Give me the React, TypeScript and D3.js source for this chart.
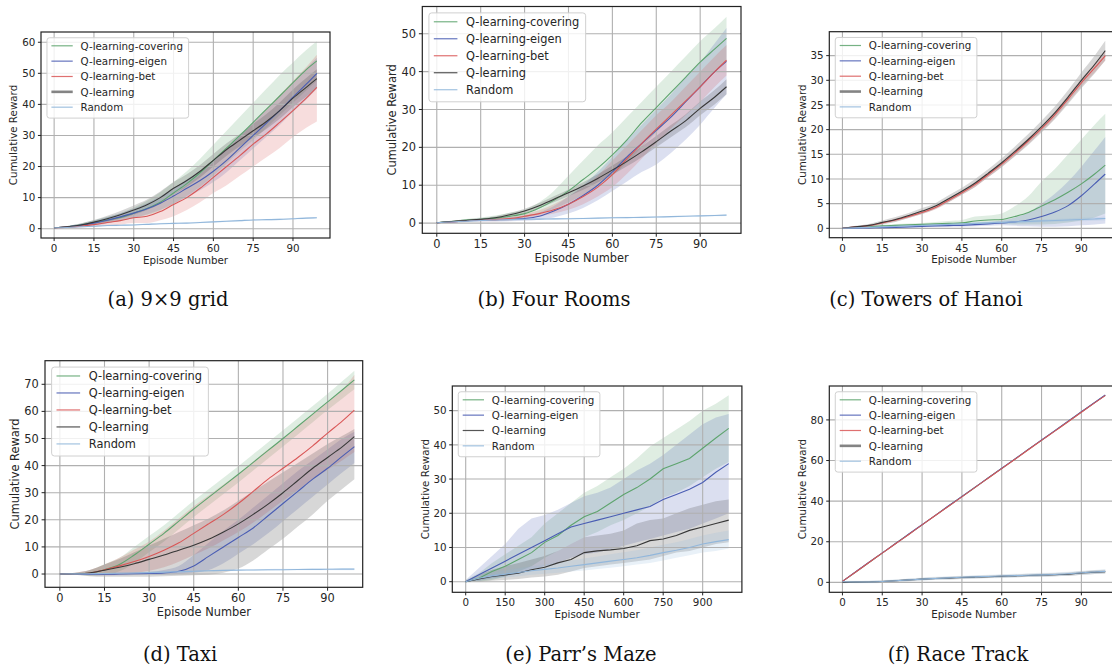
import React from 'react';
import * as d3 from 'd3';

// ---------- x samples ----------
const xEp = [0, 5, 10, 15, 20, 25, 30, 35, 40, 45, 50, 55, 60, 65, 70, 75, 80, 85, 90, 95, 99];
const xParr = [0, 50, 100, 150, 200, 250, 300, 350, 400, 450, 500, 550, 600, 650, 700, 750, 800, 850, 900, 950, 999];

// ---------- (a) 9x9 grid ----------
const aCovMean = [0.3, 0.6, 1.2, 2.0, 2.8, 3.6, 5.0, 6.5, 8.5, 11.5, 14.5, 18, 22, 26, 30, 34.2, 38.5, 42.7, 47, 51.2, 54];
const aCovHi = [0.4, 0.9, 1.7, 2.7, 3.8, 5.0, 6.8, 9.0, 11.7, 15.0, 18.5, 22.5, 27, 31.5, 36, 40.5, 45, 49.5, 53.5, 57.5, 60.3];
const aCovLo = [0.2, 0.4, 0.8, 1.3, 1.9, 2.5, 3.4, 4.4, 5.8, 8.0, 10.5, 13.5, 17, 21, 25, 28.5, 32.5, 36.5, 40.5, 44.5, 47.5];
const aEigMean = [0.3, 0.6, 1.1, 1.8, 2.7, 3.8, 5.0, 6.4, 8.2, 10.5, 13.0, 15.5, 18.5, 22, 26, 30, 34, 38, 42.3, 46.5, 50];
const aEigHi = [0.4, 0.9, 1.6, 2.6, 3.7, 5.0, 6.5, 8.2, 10.4, 13, 15.8, 18.6, 22, 25.8, 30, 34.2, 38.4, 42.6, 47, 51.5, 55];
const aEigLo = [0.2, 0.3, 0.6, 1.0, 1.7, 2.6, 3.5, 4.6, 6.0, 8, 10.2, 12.4, 15, 18.2, 22, 25.8, 29.6, 33.4, 37.6, 41.5, 45];
const aBetMean = [0.3, 0.5, 0.8, 1.3, 2.0, 2.6, 3.5, 4.0, 5.5, 7.8, 10.0, 13.0, 16.5, 20, 23.5, 27.2, 30.5, 34.2, 38, 42, 45.5];
const aBetHi = [0.4, 0.8, 1.3, 2.0, 3.0, 4.0, 5.2, 6.3, 8.5, 11.0, 14.0, 17.5, 21.5, 25.5, 29.5, 34, 38.5, 43, 47.5, 52, 56];
const aBetLo = [0.2, 0.3, 0.4, 0.6, 1.0, 1.3, 1.8, 1.8, 2.7, 4.0, 6.0, 8.5, 11.5, 14, 17, 20, 23, 26, 29.5, 32.5, 34.5];
const aQMean = [0.3, 0.6, 1.2, 2.1, 3.2, 4.5, 6.0, 7.7, 10.0, 13.0, 15.5, 18.5, 22, 25.5, 28.5, 31.5, 34.5, 38, 42, 45.5, 48.3];
const aQHi = [0.4, 0.9, 1.7, 2.8, 4.2, 5.7, 7.5, 9.4, 12, 15, 17.5, 20.5, 24, 27.5, 30.5, 33.7, 36.9, 40.6, 44.8, 48.5, 51.3];
const aQLo = [0.2, 0.3, 0.7, 1.4, 2.2, 3.3, 4.5, 6.0, 8, 11, 13.5, 16.5, 20, 23.5, 26.5, 29.3, 32.1, 35.4, 39.2, 42.5, 45.3];
const aRndMean = [0.3, 0.4, 0.6, 0.8, 1.0, 1.1, 1.2, 1.4, 1.6, 1.7, 1.8, 2.0, 2.2, 2.4, 2.6, 2.8, 2.9, 3.0, 3.2, 3.4, 3.5];
const aRndHi = [0.5, 0.65, 0.85, 1.05, 1.25, 1.35, 1.45, 1.65, 1.85, 1.95, 2.05, 2.25, 2.45, 2.65, 2.85, 3.05, 3.15, 3.25, 3.45, 3.65, 3.75];
const aRndLo = [0.1, 0.15, 0.35, 0.55, 0.75, 0.85, 0.95, 1.15, 1.35, 1.45, 1.55, 1.75, 1.95, 2.15, 2.35, 2.55, 2.65, 2.75, 2.95, 3.15, 3.25];

// ---------- (b) Four Rooms ----------
const bCovMean = [0.1, 0.4, 0.8, 1.0, 1.3, 1.8, 2.5, 4.0, 6.0, 8.5, 11.5, 14.5, 18.0, 22, 26.5, 30.5, 34.5, 38.5, 42.5, 46, 48.8];
const bCovHi = [0.2, 0.6, 1.1, 1.5, 2.0, 2.7, 3.5, 5.5, 8.5, 12.5, 16.5, 20.5, 24, 28, 32, 36, 40, 44, 48, 51.5, 54.5];
const bCovLo = [0.0, 0.2, 0.5, 0.6, 0.7, 1.0, 1.5, 2.5, 3.8, 5.5, 7.5, 10, 12.5, 16, 20, 24, 28, 32, 36, 40, 43];
const bEigMean = [0.1, 0.3, 0.6, 0.8, 0.9, 1.0, 1.2, 1.8, 3.2, 5.0, 7.3, 10.0, 13.5, 17.5, 21, 24.5, 28, 32, 36, 40, 42.7];
const bEigHi = [0.2, 0.5, 0.9, 1.2, 1.4, 1.6, 2.0, 2.8, 4.5, 7, 10, 13.5, 17.5, 22, 26, 30, 34, 38.5, 42.5, 47.5, 51.5];
const bEigLo = [0.0, 0.1, 0.3, 0.4, 0.4, 0.5, 0.6, 0.9, 1.5, 2.5, 4.0, 6, 8.5, 11.0, 13.5, 15.5, 18.5, 22, 26, 30.5, 34];
const bBetMean = [0.1, 0.3, 0.6, 0.8, 0.9, 1.2, 1.8, 2.5, 3.5, 5.0, 7.0, 9.5, 12.8, 17, 21, 24.8, 28.5, 32.2, 36, 40, 43];
const bBetHi = [0.2, 0.5, 0.8, 1.1, 1.3, 1.7, 2.4, 3.4, 5.0, 7.0, 9.5, 12.5, 16.5, 20.5, 24.5, 28.5, 32, 36, 40, 44, 47];
const bBetLo = [0.0, 0.1, 0.4, 0.5, 0.5, 0.7, 1.2, 1.8, 2.5, 3.5, 5.0, 7.0, 9.5, 13, 17, 21, 25, 28.5, 32, 36, 39];
const bQMean = [0.1, 0.4, 0.7, 1.0, 1.4, 2.2, 3.2, 4.6, 6.3, 8.0, 9.8, 11.8, 14.0, 16.3, 18.8, 21.5, 24.3, 27, 30.3, 33.3, 36];
const bQHi = [0.2, 0.6, 1.0, 1.3, 1.8, 2.7, 3.8, 5.3, 7.1, 8.9, 10.8, 12.9, 15.2, 17.6, 20.2, 23, 25.9, 28.7, 32.1, 35.2, 38];
const bQLo = [0, 0.2, 0.4, 0.7, 1.0, 1.7, 2.6, 3.9, 5.5, 7.1, 8.8, 10.7, 12.8, 15, 17.4, 20, 22.7, 25.3, 28.5, 31.4, 34];
const bRndMean = [0.1, 0.3, 0.5, 0.7, 0.8, 0.9, 1.0, 1.05, 1.1, 1.15, 1.2, 1.3, 1.4, 1.45, 1.5, 1.6, 1.7, 1.8, 1.9, 2.0, 2.1];
const bRndHi = [0.3, 0.5, 0.7, 0.9, 1.0, 1.1, 1.2, 1.25, 1.3, 1.35, 1.4, 1.5, 1.6, 1.65, 1.7, 1.8, 1.9, 2.0, 2.1, 2.2, 2.3];
const bRndLo = [-0.1, 0.1, 0.3, 0.5, 0.6, 0.7, 0.8, 0.85, 0.9, 0.95, 1.0, 1.1, 1.2, 1.25, 1.3, 1.4, 1.5, 1.6, 1.7, 1.8, 1.9];

// ---------- (c) Towers of Hanoi ----------
const cCovMean = [0, 0.2, 0.3, 0.5, 0.6, 0.7, 0.8, 0.9, 1.0, 1.1, 1.5, 1.7, 1.8, 2.4, 3.2, 4.5, 5.8, 7.3, 9.0, 11.0, 12.8];
const cCovHi = [0.05, 0.3, 0.5, 0.7, 0.9, 1.0, 1.1, 1.3, 1.5, 1.7, 2.4, 2.6, 3.0, 4.5, 6.5, 9.5, 12.0, 15.0, 18.0, 21.0, 23.2];
const cCovLo = [0, 0.1, 0.2, 0.3, 0.4, 0.4, 0.5, 0.6, 0.6, 0.7, 0.8, 0.9, 0.9, 0.8, 0.8, 0.8, 0.9, 1.2, 1.6, 2.2, 3.0];
const cEigMean = [0, 0.05, 0.1, 0.15, 0.2, 0.3, 0.4, 0.5, 0.55, 0.6, 0.75, 0.9, 1.1, 1.3, 1.7, 2.4, 3.3, 4.6, 6.6, 9.0, 11.0];
const cEigHi = [0.05, 0.1, 0.2, 0.3, 0.35, 0.45, 0.6, 0.75, 0.8, 0.9, 1.1, 1.3, 1.6, 2.2, 3.2, 5.0, 7.0, 9.5, 12.5, 15.8, 18.5];
const cEigLo = [0, 0, 0, 0, 0.05, 0.15, 0.2, 0.25, 0.3, 0.3, 0.4, 0.5, 0.6, 0.5, 0.4, 0.3, 0.3, 0.4, 0.6, 0.8, 1.0];
const cBetMean = [0, 0.3, 0.55, 1.1, 1.7, 2.4, 3.2, 4.2, 5.7, 7.2, 8.9, 10.9, 13.0, 15.3, 17.7, 20.2, 23.0, 26.2, 29.5, 32.5, 35];
const cBetHi = [0.05, 0.4, 0.75, 1.3, 2.0, 2.7, 3.5, 4.6, 6.1, 7.6, 9.4, 11.4, 13.5, 15.9, 18.3, 20.8, 23.7, 26.9, 30.3, 33.4, 36];
const cBetLo = [-0.05, 0.2, 0.35, 0.9, 1.4, 2.1, 2.9, 3.8, 5.3, 6.8, 8.4, 10.4, 12.5, 14.7, 17.1, 19.6, 22.3, 25.5, 28.7, 31.6, 34];
const cQMean = [0, 0.3, 0.6, 1.2, 1.8, 2.6, 3.5, 4.5, 6.0, 7.5, 9.2, 11.2, 13.3, 15.6, 18.0, 20.6, 23.4, 26.6, 30, 33.2, 36];
const cQHi = [0.05, 0.5, 0.9, 1.6, 2.3, 3.1, 4.1, 5.1, 6.7, 8.2, 10, 12, 14.2, 16.6, 19.1, 21.8, 24.7, 28, 31.6, 35, 38];
const cQLo = [-0.05, 0.1, 0.3, 0.8, 1.3, 2.1, 2.9, 3.9, 5.3, 6.8, 8.4, 10.4, 12.4, 14.6, 16.9, 19.4, 22.1, 25.2, 28.4, 31.4, 34];
const cRndMean = [0, 0.1, 0.2, 0.3, 0.4, 0.5, 0.6, 0.7, 0.8, 0.9, 1.0, 1.1, 1.2, 1.3, 1.4, 1.5, 1.6, 1.7, 1.8, 1.9, 2.0];
const cRndHi = [0.2, 0.35, 0.45, 0.55, 0.65, 0.75, 0.85, 0.95, 1.05, 1.15, 1.25, 1.4, 1.5, 1.6, 1.7, 1.8, 1.9, 2.0, 2.15, 2.25, 2.4];
const cRndLo = [-0.2, -0.1, 0, 0.05, 0.15, 0.25, 0.35, 0.45, 0.55, 0.65, 0.75, 0.8, 0.9, 1.0, 1.1, 1.2, 1.3, 1.4, 1.45, 1.55, 1.6];

// ---------- (d) Taxi ----------
const dCovMean = [0, 0.1, 0.4, 1.6, 3.5, 7, 11, 15, 19.5, 24, 28.3, 32.5, 36.8, 41.2, 45.6, 50, 54.5, 59, 63.5, 68, 71.6];
const dCovHi = [0, 0.4, 1.4, 3.6, 6, 10, 14, 18, 22.5, 27, 31.3, 35.5, 39.8, 44.2, 48.6, 53, 57.5, 62, 66.5, 71.2, 75];
const dCovLo = [0, -0.2, -0.6, -0.4, 1, 4, 8, 12, 16.5, 21, 25.3, 29.5, 33.8, 38.2, 42.6, 47, 51.5, 56, 60.5, 64.8, 68.2];
const dEigMean = [0, 0, -0.1, -0.1, 0, 0.1, 0.2, 0.4, 1.0, 3.0, 6.5, 10, 13.5, 17, 21.5, 26, 30.5, 35, 39, 43.5, 47];
const dEigHi = [0, 0.2, 0.3, 0.4, 0.5, 0.6, 0.8, 1.5, 3, 7, 11.5, 16, 20, 24.5, 29, 33.5, 38, 42, 46, 50, 52.5];
const dEigLo = [0, -0.2, -0.4, -0.5, -0.5, -0.4, -0.3, -0.2, 0, 0.5, 1.5, 4, 7.5, 11, 15, 19.5, 24, 28.5, 33, 37.5, 41];
const dBetMean = [0, 0.1, 0.4, 1.6, 3.0, 4.6, 6.5, 8.8, 11.5, 15, 18.5, 22, 26, 30.5, 35, 39, 43, 47.3, 52, 56.5, 60.5];
const dBetHi = [0, 0.5, 1.5, 3.5, 6, 9, 12, 16, 20.5, 25, 29, 33, 37, 41.5, 46, 50, 54.5, 59, 63.5, 68, 73.5];
const dBetLo = [0, -0.2, -0.5, -0.5, -0.3, 0.3, 1.2, 2.5, 4.5, 7, 9.5, 12.5, 15.5, 19, 23, 27, 31, 35, 38.5, 42, 45];
const dQMean = [0, 0.1, 0.4, 1.4, 2.5, 3.8, 5.4, 7.0, 8.8, 10.6, 12.8, 15.5, 18.5, 22, 25.8, 30, 34.5, 39, 43, 47, 50.7];
const dQHi = [0, 0.5, 1.5, 3.5, 5.5, 8, 10.5, 13, 15.5, 18, 20.5, 23.5, 27, 30.5, 34, 37.5, 41, 44.5, 48, 51, 53.5];
const dQLo = [0, -0.3, -0.8, -1.0, -1.0, -1.0, -1.0, -0.8, -0.6, -0.5, -0.3, 0.5, 2, 5, 9, 13, 17.5, 22, 27, 31.5, 35];
const dRndMean = [0, 0.05, 0.1, 0.2, 0.3, 0.4, 0.5, 0.7, 0.85, 1.0, 1.2, 1.35, 1.45, 1.5, 1.55, 1.6, 1.65, 1.7, 1.75, 1.8, 1.8];
const dRndHi = [0.2, 0.3, 0.35, 0.45, 0.55, 0.65, 0.75, 0.95, 1.1, 1.25, 1.45, 1.6, 1.7, 1.8, 1.85, 1.9, 1.95, 2.0, 2.1, 2.2, 2.2];
const dRndLo = [-0.2, -0.2, -0.15, -0.05, 0.05, 0.15, 0.25, 0.45, 0.6, 0.75, 0.95, 1.1, 1.2, 1.2, 1.25, 1.3, 1.35, 1.4, 1.4, 1.4, 1.4];

// ---------- (e) Parr's Maze ----------
const eCovMean = [0, 1.0, 3, 4.5, 6.5, 8.5, 11.5, 13.5, 16.5, 19, 20.5, 23, 25.5, 27.5, 30, 33, 34.5, 36, 39, 42, 44.8];
const eCovHi = [0.5, 2.5, 5.5, 8, 10.5, 13, 17, 20, 23, 26, 28, 30.5, 33, 36, 39.5, 42, 44.5, 47, 50, 52, 54.5];
const eCovLo = [0, 0, 0.5, 1.5, 3, 4.5, 7, 9, 11, 13, 14.5, 16.5, 18, 20, 22, 24.5, 26, 28, 30.5, 33, 35];
const eEigMean = [0, 2, 4, 6, 8, 10, 12, 14, 16, 17, 18, 19, 20, 21, 22, 24, 25.5, 27, 29, 32, 34.5];
const eEigHi = [0.5, 4, 7.5, 11, 15.5, 18.5, 19.5, 21, 23, 25, 26, 27.5, 30, 32.5, 34.5, 37, 40, 43, 46, 48, 49];
const eEigLo = [0, 0.3, 1, 1.5, 2.5, 3.5, 4.5, 5.5, 7, 8, 8.5, 9.5, 10.5, 11.5, 12.5, 13.5, 14.5, 15.5, 17, 18.5, 20];
const eQMean = [0, 0.8, 1.5, 2, 2.5, 3.5, 4.2, 5.5, 6.5, 8.5, 9, 9.3, 9.7, 10.5, 12, 12.5, 13.5, 15, 16, 17, 18];
const eQHi = [0.3, 2, 3.5, 4.5, 5.5, 6.5, 7.5, 9, 11, 13, 13.5, 14, 15, 17, 18, 18.5, 20, 21.5, 22.5, 23.5, 24];
const eQLo = [0, 0, 0.3, 0.5, 0.8, 1.2, 1.5, 2, 3, 4, 4.5, 5, 5.5, 6, 6.5, 7.5, 8.5, 9, 10, 11, 11.5];
const eRndMean = [0, 1.0, 1.7, 2.2, 2.7, 3.2, 3.6, 4.0, 4.5, 5.0, 5.5, 6.0, 6.5, 7.0, 7.7, 8.5, 9.2, 10, 11, 11.7, 12.3];
const eRndHi = [0.5, 1.8, 2.7, 3.3, 3.9, 4.5, 5.0, 5.6, 6.2, 6.8, 7.4, 8.0, 8.6, 9.2, 10, 10.8, 11.5, 12.5, 13.5, 14.3, 15];
const eRndLo = [0, 0.3, 0.8, 1.2, 1.6, 2.0, 2.3, 2.6, 3.0, 3.3, 3.7, 4.1, 4.5, 5.0, 5.5, 6.2, 7, 7.7, 8.5, 9.0, 9.7];

// ---------- (f) Race Track ----------
const fCovMean = [0.5, 5.1, 9.8, 14.4, 19.1, 23.7, 28.3, 33.0, 37.6, 42.2, 46.8, 51.5, 56.1, 60.7, 65.4, 70.0, 74.6, 79.2, 83.9, 88.5, 92.1];
const fEigMean = [0.5, 5.2, 9.9, 14.5, 19.1, 23.8, 28.4, 33.0, 37.7, 42.3, 46.9, 51.6, 56.2, 60.8, 65.5, 70.1, 74.7, 79.4, 84.0, 88.6, 92.3];
const fBetMean = [0.5, 5.1, 9.8, 14.4, 19.0, 23.6, 28.3, 32.9, 37.5, 42.1, 46.8, 51.4, 56.0, 60.6, 65.3, 69.9, 74.5, 79.1, 83.8, 88.4, 92.0];
const fQMean = [0, 0.1, 0.2, 0.4, 0.8, 1.2, 1.6, 1.9, 2.1, 2.4, 2.6, 2.8, 3.0, 3.2, 3.4, 3.6, 3.8, 4.0, 4.6, 5.0, 5.3];
const fQHi = [0.4, 0.5, 0.7, 0.9, 1.3, 1.8, 2.2, 2.5, 2.8, 3.1, 3.3, 3.5, 3.7, 3.9, 4.2, 4.4, 4.6, 4.9, 5.5, 5.9, 6.2];
const fQLo = [-0.4, -0.3, -0.3, -0.1, 0.3, 0.6, 1.0, 1.3, 1.4, 1.7, 1.9, 2.1, 2.3, 2.5, 2.6, 2.8, 3.0, 3.1, 3.7, 4.1, 4.4];
const fRndMean = [0.3, 0.2, 0.2, 0.4, 0.8, 1.2, 1.6, 1.9, 2.2, 2.5, 2.7, 2.9, 3.1, 3.3, 3.5, 3.7, 3.9, 4.2, 4.7, 5.1, 5.4];
const fRndHi = [0.8, 0.8, 0.9, 1.1, 1.5, 1.9, 2.4, 2.7, 3.0, 3.3, 3.5, 3.8, 4.0, 4.2, 4.4, 4.7, 4.9, 5.2, 5.7, 6.1, 6.4];
const fRndLo = [-0.2, -0.4, -0.5, -0.3, 0.1, 0.5, 0.8, 1.1, 1.4, 1.7, 1.9, 2.0, 2.2, 2.4, 2.6, 2.7, 2.9, 3.2, 3.7, 4.1, 4.4];

// ---------- labels / ticks ----------
const NAME_COV = 'Q-learning-covering';
const NAME_EIG = 'Q-learning-eigen';
const NAME_BET = 'Q-learning-bet';
const NAME_Q = 'Q-learning';
const NAME_RND = 'Random';
const xTicksEp = [0, 15, 30, 45, 60, 75, 90];
const xTicksParr = [0, 150, 300, 450, 600, 750, 900];
const yTicksA = [0, 10, 20, 30, 40, 50, 60];
const yTicksB = [0, 10, 20, 30, 40, 50];
const yTicksC = [0, 5, 10, 15, 20, 25, 30, 35];
const yTicksD = [0, 10, 20, 30, 40, 50, 60, 70];
const yTicksE = [0, 10, 20, 30, 40, 50];
const yTicksF = [0, 20, 40, 60, 80];
const captions = ['(a) 9×9 grid', '(b) Four Rooms', '(c) Towers of Hanoi', '(d) Taxi', '(e) Parr’s Maze', '(f) Race Track'];

const C_COV = '#5ea46e';
const C_EIG = '#4a5db3';
const C_BET = '#d95757';
const C_Q = '#383838';
const C_RND = '#92b7db';

type Series = { name: string; color: string; mean: number[]; lo?: number[]; hi?: number[] };
type PanelCfg = {
  caption: string; capX: number; capY: number;
  box: { l: number; t: number; r: number; b: number };
  xDomain: [number, number]; yDomain: [number, number];
  xs: number[]; xTicks: number[]; yTicks: number[];
  s: number; jag?: boolean; series: Series[]; thickQLegend?: boolean;
};

const panels: PanelCfg[] = [
  {
    caption: captions[0], capX: 168, capY: 306,
    box: { l: 41, t: 32, r: 330, b: 238 }, xDomain: [-4.95, 103.95], yDomain: [-3.0, 63.3],
    xs: xEp, xTicks: xTicksEp, yTicks: yTicksA, s: 1.03, thickQLegend: true,
    series: [
      { name: NAME_COV, color: C_COV, mean: aCovMean, lo: aCovLo, hi: aCovHi },
      { name: NAME_EIG, color: C_EIG, mean: aEigMean, lo: aEigLo, hi: aEigHi },
      { name: NAME_BET, color: C_BET, mean: aBetMean, lo: aBetLo, hi: aBetHi },
      { name: NAME_Q, color: C_Q, mean: aQMean, lo: aQLo, hi: aQHi },
      { name: NAME_RND, color: C_RND, mean: aRndMean, lo: aRndLo, hi: aRndHi },
    ],
  },
  {
    caption: captions[1], capX: 554, capY: 306,
    box: { l: 422.3, t: 6.5, r: 741, b: 233.3 }, xDomain: [-4.95, 103.95], yDomain: [-2.7, 57.2],
    xs: xEp, xTicks: xTicksEp, yTicks: yTicksB, s: 1.14,
    series: [
      { name: NAME_COV, color: C_COV, mean: bCovMean, lo: bCovLo, hi: bCovHi },
      { name: NAME_EIG, color: C_EIG, mean: bEigMean, lo: bEigLo, hi: bEigHi },
      { name: NAME_BET, color: C_BET, mean: bBetMean, lo: bBetLo, hi: bBetHi },
      { name: NAME_Q, color: C_Q, mean: bQMean, lo: bQLo, hi: bQHi },
      { name: NAME_RND, color: C_RND, mean: bRndMean, lo: bRndLo, hi: bRndHi },
    ],
  },
  {
    caption: captions[2], capX: 926, capY: 306,
    box: { l: 829.3, t: 31.7, r: 1118.4, b: 237.7 }, xDomain: [-4.95, 103.95], yDomain: [-1.9, 39.85],
    xs: xEp, xTicks: xTicksEp, yTicks: yTicksC, s: 1.03, thickQLegend: true,
    series: [
      { name: NAME_COV, color: C_COV, mean: cCovMean, lo: cCovLo, hi: cCovHi },
      { name: NAME_EIG, color: C_EIG, mean: cEigMean, lo: cEigLo, hi: cEigHi },
      { name: NAME_BET, color: C_BET, mean: cBetMean, lo: cBetLo, hi: cBetHi },
      { name: NAME_Q, color: C_Q, mean: cQMean, lo: cQLo, hi: cQHi },
      { name: NAME_RND, color: C_RND, mean: cRndMean, lo: cRndLo, hi: cRndHi },
    ],
  },
  {
    caption: captions[3], capX: 180, capY: 661,
    box: { l: 45, t: 360.7, r: 362.7, b: 587.3 }, xDomain: [-5.0, 101.8], yDomain: [-4.9, 78.7],
    xs: xEp, xTicks: xTicksEp, yTicks: yTicksD, s: 1.14,
    series: [
      { name: NAME_COV, color: C_COV, mean: dCovMean, lo: dCovLo, hi: dCovHi },
      { name: NAME_EIG, color: C_EIG, mean: dEigMean, lo: dEigLo, hi: dEigHi },
      { name: NAME_BET, color: C_BET, mean: dBetMean, lo: dBetLo, hi: dBetHi },
      { name: NAME_Q, color: C_Q, mean: dQMean, lo: dQLo, hi: dQHi },
      { name: NAME_RND, color: C_RND, mean: dRndMean, lo: dRndLo, hi: dRndHi },
    ],
  },
  {
    caption: captions[4], capX: 581, capY: 661,
    box: { l: 452.3, t: 386, r: 741.9, b: 592.3 }, xDomain: [-50.9, 1049], yDomain: [-3.1, 57.2],
    xs: xParr, xTicks: xTicksParr, yTicks: yTicksE, s: 1.03, jag: true,
    series: [
      { name: NAME_COV, color: C_COV, mean: eCovMean, lo: eCovLo, hi: eCovHi },
      { name: NAME_EIG, color: C_EIG, mean: eEigMean, lo: eEigLo, hi: eEigHi },
      { name: NAME_Q, color: C_Q, mean: eQMean, lo: eQLo, hi: eQHi },
      { name: NAME_RND, color: C_RND, mean: eRndMean, lo: eRndLo, hi: eRndHi },
    ],
  },
  {
    caption: captions[5], capX: 958, capY: 661,
    box: { l: 829.3, t: 386, r: 1118.4, b: 592.3 }, xDomain: [-4.95, 103.95], yDomain: [-4.9, 96.7],
    xs: xEp, xTicks: xTicksEp, yTicks: yTicksF, s: 1.03, thickQLegend: true,
    series: [
      { name: NAME_COV, color: C_COV, mean: fCovMean },
      { name: NAME_EIG, color: C_EIG, mean: fEigMean },
      { name: NAME_BET, color: C_BET, mean: fBetMean },
      { name: NAME_Q, color: C_Q, mean: fQMean, lo: fQLo, hi: fQHi },
      { name: NAME_RND, color: C_RND, mean: fRndMean, lo: fRndLo, hi: fRndHi },
    ],
  },
];

const SANS = 'DejaVu Sans, sans-serif';

function Panel({ p, idx }: { p: PanelCfg; idx: number }) {
  const { box, s } = p;
  const fs = 10 * s;
  const x = d3.scaleLinear().domain(p.xDomain).range([box.l, box.r]);
  const y = d3.scaleLinear().domain(p.yDomain).range([box.b, box.t]);
  const curve = p.jag ? d3.curveLinear : d3.curveMonotoneX;
  const line = d3.line<number>().x((_, i) => x(p.xs[i])).y((d) => y(d)).curve(curve);
  const clipId = `clip-${idx}`;
  const legendX = box.l + 5.8 * s;
  const legendY = box.t + 5.6 * s;
  const rowH = 14.9 * s;
  const legendW = 137.5 * s;
  const legendH = p.series.length * rowH + 3.5 * s;
  return (
    <g>
      <defs>
        <clipPath id={clipId}>
          <rect x={box.l} y={box.t} width={box.r - box.l} height={box.b - box.t} />
        </clipPath>
      </defs>
      <rect x={box.l} y={box.t} width={box.r - box.l} height={box.b - box.t} fill="#fff" />
      <g clipPath={`url(#${clipId})`}>
        {p.series.map((sr, i) =>
          sr.lo && sr.hi ? (
            <path
              key={`band-${i}`}
              d={
                d3
                  .area<number>()
                  .x((_, j) => x(p.xs[j]))
                  .y0((_, j) => y(sr.lo![j]))
                  .y1((_, j) => y(sr.hi![j]))
                  .curve(curve)(sr.mean) || ''
              }
              fill={sr.color}
              fillOpacity={0.2}
              stroke="none"
            />
          ) : null
        )}
        {p.xTicks.map((t) => (
          <line key={`gx${t}`} x1={x(t)} x2={x(t)} y1={box.t} y2={box.b} stroke="#b0b0b0" strokeWidth={1.1} />
        ))}
        {p.yTicks.map((t) => (
          <line key={`gy${t}`} x1={box.l} x2={box.r} y1={y(t)} y2={y(t)} stroke="#b0b0b0" strokeWidth={1.1} />
        ))}
        {p.series.map((sr, i) => (
          <path key={`line-${i}`} d={line(sr.mean) || ''} fill="none" stroke={sr.color} strokeWidth={1.1} />
        ))}
      </g>
      <rect x={box.l} y={box.t} width={box.r - box.l} height={box.b - box.t} fill="none" stroke="#222" strokeWidth={1.2} />
      {p.xTicks.map((t) => (
        <g key={`xt${t}`}>
          <line x1={x(t)} x2={x(t)} y1={box.b} y2={box.b + 3 * s} stroke="#222" strokeWidth={1} />
          <text x={x(t)} y={box.b + 6.5 + 0.73 * fs} textAnchor="middle" fontFamily={SANS} fontSize={fs} fill="#262626">
            {t}
          </text>
        </g>
      ))}
      {p.yTicks.map((t) => (
        <g key={`yt${t}`}>
          <line x1={box.l - 3 * s} x2={box.l} y1={y(t)} y2={y(t)} stroke="#222" strokeWidth={1} />
          <text x={box.l - 5.5 * s} y={y(t) + 0.36 * fs} textAnchor="end" fontFamily={SANS} fontSize={fs} fill="#262626">
            {t}
          </text>
        </g>
      ))}
      <text x={(box.l + box.r) / 2} y={box.b + 2.5 * fs} textAnchor="middle" fontFamily={SANS} fontSize={fs} fill="#262626">
        Episode Number
      </text>
      <text
        transform={`translate(${box.l - 26.5 * s},${(box.t + box.b) / 2}) rotate(-90)`}
        y={0.36 * fs}
        textAnchor="middle"
        fontFamily={SANS}
        fontSize={fs}
        fill="#262626"
      >
        Cumulative Reward
      </text>
      <rect x={legendX} y={legendY} width={legendW} height={legendH} rx={2.5 * s} fill="#fff" fillOpacity={0.82} stroke="#d0d0d0" strokeWidth={1} />
      {p.series.map((sr, i) => {
        const cy = legendY + 7.8 * s + i * rowH;
        const thick = p.thickQLegend && sr.name === NAME_Q;
        return (
          <g key={`lg${i}`}>
            <line
              x1={legendX + 4.3 * s}
              x2={legendX + 25 * s}
              y1={cy}
              y2={cy}
              stroke={thick ? '#777' : sr.color}
              strokeWidth={thick ? 2.6 : 1.2}
              strokeOpacity={thick ? 0.9 : 0.85}
            />
            <text x={legendX + 32.6 * s} y={cy + 0.36 * fs} fontFamily={SANS} fontSize={fs} fill="#262626">
              {sr.name}
            </text>
          </g>
        );
      })}
      <text x={p.capX} y={p.capY} textAnchor="middle" fontFamily="DejaVu Serif, serif" fontSize={19.5} fill="#111">
        {p.caption}
      </text>
    </g>
  );
}

export default function App() {
  return (
    <svg
      width={1112}
      height={671}
      viewBox="0 0 1112 671"
      style={{ position: 'absolute', left: 0, top: 0, display: 'block', background: '#fff' }}
    >
      <rect x={0} y={0} width={1112} height={671} fill="#fff" />
      {panels.map((p, i) => (
        <Panel key={i} p={p} idx={i} />
      ))}
    </svg>
  );
}
